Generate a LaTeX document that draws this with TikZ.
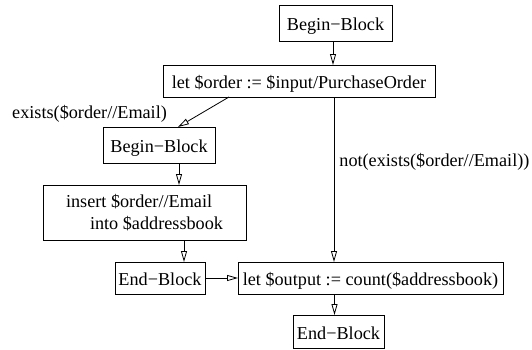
\documentclass[tikz,border=0pt]{standalone}
\usepackage{fontspec}
\setmainfont{Liberation Serif}
\usepackage{tikz}
\usetikzlibrary{arrows.meta,positioning}

\begin{document}
\begin{tikzpicture}[font=\fontsize{18.2}{22}\selectfont, node distance=22pt]
  \tikzset{stmt/.style={draw, line width=0.8pt, inner sep=0pt, outer sep=0pt}, blockbox/.style={stmt, text height=15.5pt, text depth=0pt, minimum height=32pt}, flow/.style={-{Triangle[open,length=11pt,width=6pt]}, line width=0.8pt}, cond/.style={inner sep=0pt}}
  \useasboundingbox (0,0) rectangle (532pt,-349pt);
  \node[blockbox, minimum width=113pt, minimum height=36pt] (bb1) at (335.5pt,-23pt) {Begin−Block};
  \node[blockbox, minimum width=272pt, below=24pt of bb1, xshift=-36.5pt] (order) {let \$order := \$input/PurchaseOrder};
  \node[blockbox, minimum width=112pt, minimum height=36pt, below=30pt of order, xshift=-140pt] (bb2) {Begin−Block};
  \node[stmt, align=left, minimum width=203pt, minimum height=55pt, below=of bb2, xshift=-14.5pt] (insert) {insert \$order//Email\\\hspace*{24pt}into \$addressbook};
  \node[blockbox, minimum width=90pt, below=of insert, xshift=15.5pt] (eb1) {End−Block};
  \node[blockbox, minimum width=265pt, right=33pt of eb1] (out) {let \$output := count(\$addressbook)};
  \node[blockbox, minimum width=91pt, minimum height=33pt, below=21pt of out, xshift=-32pt] (eb2) {End−Block};
  \draw[flow] ([xshift=-2.5pt]bb1.south) -- ([xshift=-2.5pt]bb1.south |- order.north);
  \draw[flow] ([xshift=-70pt]order.south) -- node[cond, pos=0.7, anchor=base east, xshift=-26pt] (yes) {exists(\$order//Email)} ([xshift=19pt]bb2.north);
  \draw[flow] ([xshift=35pt]order.south) -- node[cond, pos=0.42, anchor=base west, xshift=5pt] (no) {not(exists(\$order//Email))} ([xshift=35pt]order.south |- out.north);
  \draw[flow] ([xshift=20pt]bb2.south) -- ([xshift=20pt]bb2.south |- insert.north);
  \draw[flow] ([xshift=24pt]eb1.north |- insert.south) -- ([xshift=24pt]eb1.north);
  \draw[flow] (eb1.east) -- (out.west);
  \draw[flow] ([xshift=-4pt]eb2.north |- out.south) -- ([xshift=-4pt]eb2.north);
\end{tikzpicture}
\end{document}
